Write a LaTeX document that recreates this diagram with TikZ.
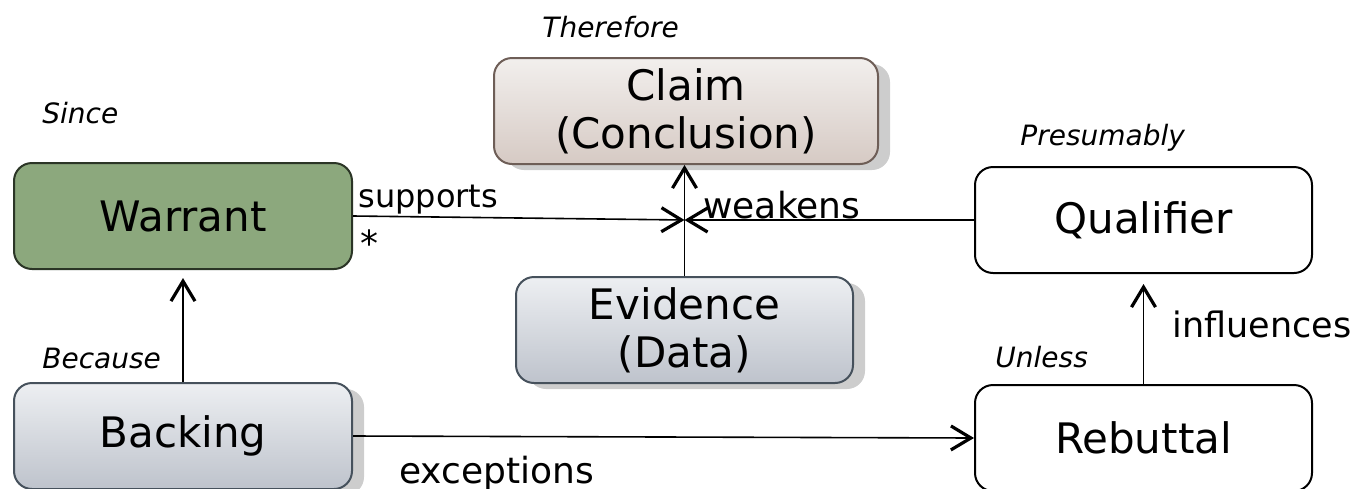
\documentclass[tikz,border=0pt]{standalone}
\usepackage{fontspec}
\setmainfont{DejaVu Sans}[ItalicFont={DejaVu Sans Oblique}]
\usetikzlibrary{arrows.meta,shadows}
\definecolor{warrantfill}{HTML}{8CA87D}
\definecolor{warrantline}{HTML}{2B3526}
\definecolor{claimtop}{HTML}{F2EFED}
\definecolor{claimbot}{HTML}{D6CAC4}
\definecolor{claimline}{HTML}{6E5E57}
\definecolor{evtop}{HTML}{EDEFF2}
\definecolor{evbot}{HTML}{BEC3CC}
\definecolor{evline}{HTML}{46515C}
\definecolor{shadowgray}{HTML}{CDCDCD}
\begin{document}
\begin{tikzpicture}[x=0.5pt,y=-0.5pt,
  box/.style={draw, line width=1pt, rounded corners=9pt, minimum height=53pt,
    inner sep=0pt, align=center, font=\fontsize{21}{24}\selectfont},
  shadowed/.style={drop shadow={shadow xshift=6pt, shadow yshift=-3pt, fill=shadowgray, opacity=1}},
  claimbox/.style={box, shadowed, draw=claimline, top color=claimtop, bottom color=claimbot},
  databox/.style={box, shadowed, draw=evline, top color=evtop, bottom color=evbot},
  warrantbox/.style={box, draw=warrantline, fill=warrantfill},
  plainbox/.style={box, draw=black, fill=white},
  kw/.style={inner sep=0pt, font=\fontsize{14}{16}\selectfont\itshape},
  lab/.style={inner sep=0pt},
  conn/.style={line width=0.8pt, -{Straight Barb[length=10pt,width=12pt,line width=1.6pt]}}
]
\path[use as bounding box] (0,0) rectangle (1360,488);

\node[claimbox, minimum width=192pt] (claim) at (686,111) {Claim\\(Conclusion)};
\node[warrantbox, minimum width=169pt] (warrant) at (183,216) {Warrant};
\node[databox, minimum width=168.5pt] (evidence) at (684.5,330) {Evidence\\(Data)};
\node[databox, minimum width=169pt] (backing) at (183,436) {Backing};
\node[plainbox, minimum width=168.5pt] (qualifier) at (1143.5,220) {Qualifier};
\node[plainbox, minimum width=168.5pt] (rebuttal) at (1143.5,438) {Rebuttal};

\coordinate (J) at (684.5,220);

\draw[conn] (warrant.east) -- (J);
\draw[conn] (qualifier.west) -- (J);
\draw[conn] (evidence.north) -- (evidence.north |- claim.south);
\draw[conn, shorten >=4pt] (backing.north) -- (warrant.south);
\draw[conn] (backing.east) -- (rebuttal.west);
\draw[conn, shorten >=5pt] (rebuttal.north) -- (qualifier.south);

\node[kw, anchor=base west] (therefore) at (542,37) {Therefore};
\node[kw, anchor=base west] (since) at (42,123) {Since};
\node[kw, anchor=base west] (presumably) at (1020,145) {Presumably};
\node[kw, anchor=base west] (because) at (42,368) {Because};
\node[kw, anchor=base west] (unless) at (995,367) {Unless};

\node[lab, anchor=base west, font=\fontsize{16}{18}\selectfont] (supports) at (358,207) {supports};
\node[lab, anchor=base, font=\fontsize{18}{20}\selectfont] (star) at (369,256) {*};
\node[lab, anchor=base west, font=\fontsize{18}{20}\selectfont] (weakens) at (703,218) {weakens};
\node[lab, anchor=base west, font=\fontsize{17.5}{20}\selectfont] (influences) at (1172,337) {influences};
\node[lab, anchor=base west, font=\fontsize{18}{20}\selectfont] (exceptions) at (399,483) {exceptions};
\end{tikzpicture}
\end{document}
